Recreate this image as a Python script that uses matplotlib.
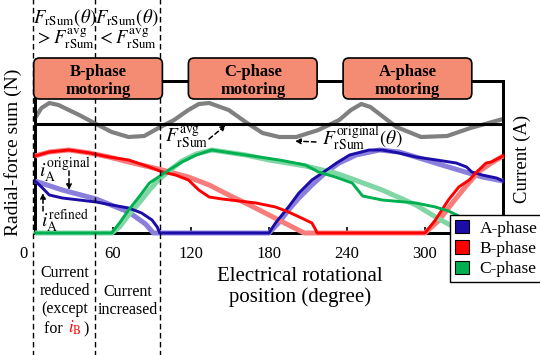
import matplotlib
matplotlib.use('Agg')
from matplotlib import pyplot as plt
from matplotlib.patches import FancyBboxPatch, Patch
from matplotlib.transforms import blended_transform_factory, ScaledTranslation

plt.rcParams['font.family'] = ['Liberation Serif', 'DejaVu Serif']
plt.rcParams['mathtext.fontset'] = 'stix'

# radial-force sum with the original currents (N)
force_deg = [0, 5, 11, 18, 26, 34, 47, 59, 72, 84, 95, 107, 118, 126, 134, 149, 162,
             175, 188, 201, 218, 234, 243, 251, 258, 266, 278, 297, 317, 335, 360]
force_orig = [115, 125, 130, 128, 123, 118, 109, 101, 96, 97, 105, 113, 123, 129, 130, 123, 111,
              100, 96, 96, 103, 113, 123, 129, 126, 118, 106, 96, 97, 105, 114]
force_avg = 109

# phase currents (A), original and refined
a_orig_deg = [0, 21, 47, 72, 85, 91, 180, 188, 195, 203, 213, 224, 234, 247, 265, 280, 293, 318, 344, 360]
a_orig = [5.2, 4.3, 3.4, 2.1, 0.9, 0, 0, 1.1, 2.3, 3.5, 4.8, 6.1, 7.0, 7.8, 8.3, 8.1, 7.6, 6.6, 5.6, 5.2]
a_ref_deg = [0, 5, 11, 21, 34, 47, 59, 72, 82, 90, 94, 96, 180, 185, 195, 203, 213, 221, 232, 242,
             257, 267, 280, 293, 309, 324, 332, 336, 344, 355, 360]
a_ref = [5.2, 4.6, 3.8, 3.5, 3.3, 3.1, 2.8, 2.5, 2.0, 1.3, 0.6, 0, 0, 1.0, 2.6, 4.0, 5.3, 6.0, 7.0, 7.8,
         8.3, 8.3, 8.0, 7.6, 7.3, 7.0, 6.6, 6.1, 5.8, 5.5, 5.2]

b_orig_deg = [0, 11, 26, 42, 57, 72, 98, 118, 134, 149, 165, 180, 195, 207, 300, 311, 321, 331, 341, 351, 360]
b_orig = [7.7, 8.1, 8.3, 8.0, 7.6, 7.1, 6.3, 5.6, 4.8, 3.8, 2.8, 1.8, 0.8, 0, 0, 1.3, 3.0, 4.6, 6.1, 7.0, 7.7]
b_ref_deg = [0, 11, 26, 42, 57, 72, 88, 98, 108, 118, 126, 134, 144, 170, 185, 195, 205, 213, 216, 217,
             300, 308, 318, 326, 334, 339, 347, 351, 360]
b_ref = [7.7, 8.1, 8.3, 8.0, 7.6, 7.3, 6.6, 6.1, 5.8, 5.3, 4.3, 3.6, 3.4, 3.0, 2.6, 2.1, 1.5, 1.0, 0.3, 0,
         0, 1.3, 3.3, 4.6, 5.3, 6.0, 7.0, 7.1, 7.7]

c_orig_deg = [0, 59, 65, 72, 80, 88, 95, 103, 113, 124, 136, 162, 180, 208, 231, 242, 267, 293, 312, 318, 330, 360]
c_orig = [0, 0, 0.6, 1.8, 3.0, 4.3, 5.3, 6.2, 7.2, 7.9, 8.3, 7.8, 7.3, 6.7, 6.0, 5.5, 4.3, 2.8, 1.3, 0.9, 0, 0]
c_ref_deg = [0, 59, 65, 72, 80, 88, 95, 103, 113, 124, 136, 162, 188, 208, 218, 231, 244, 252, 267,
             293, 308, 318, 326, 332, 335, 360]
c_ref = [0, 0, 1.0, 2.3, 3.6, 5.0, 5.6, 6.3, 7.1, 7.8, 8.3, 7.8, 7.3, 6.8, 6.1, 5.6, 5.0, 3.7, 3.3,
         3.0, 2.6, 2.2, 1.7, 0.9, 0, 0]

phase_names = ['A-phase', 'B-phase', 'C-phase']
motoring_names = ['B-phase\nmotoring', 'C-phase\nmotoring', 'A-phase\nmotoring']
motoring_start = [-1, 118, 237]
motoring_end = [98, 217, 336]
region_edges = [-1.5, 46, 96]
xticks = [0, 60, 120, 180, 240, 300, 360]
xtick_labels = ['0', '60', '120', '180', '240', '300', '']

dark = {'A': '#1c0ca8', 'B': '#ff0000', 'C': '#00b050'}
light = {'A': '#8b7fdc', 'B': '#f87c7c', 'C': '#80d6a4'}

W, H = 540, 355
fig = plt.figure(figsize=(W / 100, H / 100), dpi=100)
ax = fig.add_axes([35 / W, 1 - 233 / H, 468 / W, 152 / H])
ax2 = ax.twinx()


def fpx(x, y):
    # pixel position (from top-left) -> figure fraction
    return x / W, 1 - y / H


# force sum
ax.plot(force_deg, force_orig, color='#808080', lw=3, solid_capstyle='butt')
ax.axhline(force_avg, color='k', lw=2.2)
ax.set_xlim(0, 360)
ax.set_ylim(0, 152)
ax.set_yticks([])

# currents
for d, v, c in [(a_orig_deg, a_orig, 'A'), (b_orig_deg, b_orig, 'B'), (c_orig_deg, c_orig, 'C')]:
    ax2.plot(d, v, color=light[c], lw=3.6, solid_capstyle='butt', clip_on=False, zorder=3)
for d, v, c in [(a_ref_deg, a_ref, 'A'), (b_ref_deg, b_ref, 'B'), (c_ref_deg, c_ref, 'C')]:
    ax2.plot(d, v, color=dark[c], lw=2.1, clip_on=False, zorder=4)
ax2.set_ylim(0, 15.2)
ax2.set_yticks([])

for a in (ax, ax2):
    for s in a.spines.values():
        s.set_linewidth(2)

ax.set_xticks(xticks, xtick_labels)
ax.tick_params(axis='x', direction='in', length=4, width=1.2, pad=9, labelsize=12)
lab0 = ax.get_xticklabels()[0]
lab0.set_transform(lab0.get_transform() + ScaledTranslation(-0.11, 0, fig.dpi_scale_trans))

ax.set_ylabel('Radial-force sum (N)', fontsize=14)
ax.yaxis.set_label_coords(-0.028, 0.53)
ax2.set_ylabel('Current (A)', fontsize=13.5)
ax2.yaxis.set_label_coords(1.022, 0.49)

# dashed boundaries through the whole figure
for e in region_edges:
    ax2.axvline(e, ymin=-0.81, ymax=1.54, color='k', lw=1, ls=(0, (4, 2.5)), clip_on=False, zorder=5)

# motoring boxes over the top frame line
tr = blended_transform_factory(ax2.transData, ax2.transAxes)
aspect = (468 / 360) / 152
for name, x0, x1 in zip(motoring_names, motoring_start, motoring_end):
    box = FancyBboxPatch((x0, 0.8816), x1 - x0, 0.2697, transform=tr,
                         boxstyle='round,pad=0,rounding_size=4.5', mutation_aspect=aspect,
                         facecolor='#f48c73', edgecolor='k', lw=1.2, clip_on=False, zorder=6)
    ax2.add_patch(box)
    ax2.text((x0 + x1) / 2, 1.0, name, transform=tr, ha='center', va='center',
             fontsize=12, fontweight='bold', linespacing=1.1, zorder=7)

# region conditions on top
fig.text(*fpx(65, 29), '$F_{\\mathrm{rSum}}(\\theta)$\n$>F_{\\mathrm{rSum}}^{\\mathrm{avg}}$',
         ha='center', va='center', fontsize=13.5, linespacing=0.95)
fig.text(*fpx(127, 29), '$F_{\\mathrm{rSum}}(\\theta)$\n$<F_{\\mathrm{rSum}}^{\\mathrm{avg}}$',
         ha='center', va='center', fontsize=13.5, linespacing=0.95)

# curve labels with dashed pointers
arrow = dict(arrowstyle='-|>', ls=(0, (3, 2)), lw=1.1, color='k', mutation_scale=8,
             shrinkA=0, shrinkB=0)
fig.text(*fpx(187, 138), r'$F_{\mathrm{rSum}}^{\mathrm{avg}}$', ha='center', va='center', fontsize=14)
ax2.annotate('', xy=fpx(226, 125), xytext=fpx(209, 139), xycoords='figure fraction', arrowprops=arrow)
fig.text(*fpx(362, 138), r'$F_{\mathrm{rSum}}^{\mathrm{original}}(\theta)$', ha='center', va='center', fontsize=14)
ax2.annotate('', xy=fpx(295, 141), xytext=fpx(316, 142), xycoords='figure fraction', arrowprops=arrow)
fig.text(*fpx(65, 170), r'$i_{\mathrm{A}}^{\mathrm{original}}$', ha='center', va='center', fontsize=14)
ax2.annotate('', xy=fpx(69, 190), xytext=fpx(69, 171), xycoords='figure fraction', arrowprops=arrow)
fig.text(*fpx(65, 221), r'$i_{\mathrm{A}}^{\mathrm{refined}}$', ha='center', va='center', fontsize=14)
ax2.annotate('', xy=fpx(43, 193), xytext=fpx(43, 211), xycoords='figure fraction', arrowprops=arrow)

# notes below the axis
fig.text(*fpx(65, 291), 'Current\nreduced\n(except', ha='center', va='center', fontsize=11.5, linespacing=1.2)
fig.text(*fpx(67, 333), 'for ', ha='right', va='baseline', fontsize=11.5)
fig.text(*fpx(68, 333), r'$i_{\mathrm{B}}$', color='red', ha='left', va='baseline', fontsize=12)
fig.text(*fpx(83, 333), ')', ha='left', va='baseline', fontsize=11.5)
fig.text(*fpx(128, 301), 'Current\nincreased', ha='center', va='center', fontsize=11.5, linespacing=1.2)
fig.text(*fpx(300, 287), 'Electrical rotational\nposition (degree)', ha='center', va='center',
         fontsize=15, linespacing=1.1)

handles = [Patch(facecolor=dark[k], edgecolor='k', lw=0.8, label=n) for k, n in zip('ABC', phase_names)]
leg = ax2.legend(handles=handles, loc='upper left', bbox_to_anchor=fpx(450, 215),
                 bbox_transform=fig.transFigure, fancybox=False, edgecolor='k', framealpha=1,
                 fontsize=12.5, handlelength=0.8, handleheight=0.8, handletextpad=0.6,
                 labelspacing=0.2, borderpad=0.3, borderaxespad=0)
leg.get_frame().set_linewidth(1)
leg.set_zorder(10)

fig.savefig('out.png', dpi=100)
